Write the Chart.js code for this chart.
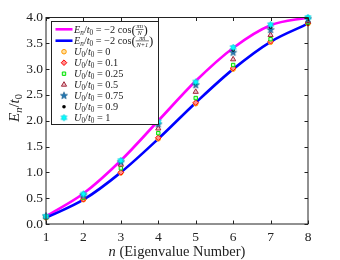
<!DOCTYPE html>
<html>
<head>
<meta charset="utf-8">
<script src="https://cdn.jsdelivr.net/npm/chart.js@4.4.1/dist/chart.umd.min.js"></script>
<style>
  html, body { margin: 0; padding: 0; background: #fff; }
  #wrap { width: 340px; height: 260px; }
</style>
</head>
<body>
<div id="wrap"><canvas id="eigChart" width="340" height="260"></canvas></div>
<script>
// data
const nValues = [1, 2, 3, 4, 5, 6, 7, 8];
const curveN = [0.15, 0.59, 1.23, 2.00, 2.77, 3.41, 3.85, 4.00];     // magenta, cos(pi n / N)
const curveN1 = [0.12, 0.47, 1.00, 1.65, 2.35, 3.00, 3.53, 3.88];    // blue, cos(pi n / (N+1))
const u00 = [0.12, 0.47, 0.99, 1.65, 2.33, 3.00, 3.52, 3.88];
const u01 = [0.13, 0.48, 1.00, 1.67, 2.35, 3.02, 3.54, 3.89];
const u025 = [0.13, 0.51, 1.08, 1.76, 2.44, 3.08, 3.58, 3.90];
const u05 = [0.14, 0.53, 1.15, 1.85, 2.56, 3.19, 3.66, 3.93];
const u075 = [0.15, 0.56, 1.20, 1.93, 2.69, 3.32, 3.76, 3.97];
const u09 = [0.15, 0.57, 1.21, 1.96, 2.72, 3.37, 3.81, 3.99];
const u10 = [0.15, 0.58, 1.23, 1.98, 2.75, 3.42, 3.86, 4.00];
const uLabels = ['0', '0.1', '0.25', '0.5', '0.75', '0.9', '1'];
const xTicks = [1, 2, 3, 4, 5, 6, 7, 8];
const yTicks = [0, 0.5, 1, 1.5, 2, 2.5, 3, 3.5, 4];

const SERIF = "'Liberation Serif', 'DejaVu Serif', serif";
const INK = '#222';

function font(size, italic) {
  return (italic ? 'italic ' : '') + size + 'px ' + SERIF;
}

function pts(ys) {
  return nValues.map((n, i) => ({ x: n, y: ys[i] }));
}

// small star markers drawn on offscreen canvases
function starCanvas(points, fill, edge, r) {
  const s = Math.ceil(r * 2 + 2);
  const c = document.createElement('canvas');
  c.width = s; c.height = s;
  const g = c.getContext('2d');
  const inner = points === 5 ? r * 0.42 : r * 0.58;
  g.beginPath();
  for (let k = 0; k < points * 2; k++) {
    const a = -Math.PI / 2 + k * Math.PI / points;
    const rr = k % 2 === 0 ? r : inner;
    const px = s / 2 + rr * Math.cos(a), py = s / 2 + rr * Math.sin(a);
    if (k === 0) g.moveTo(px, py); else g.lineTo(px, py);
  }
  g.closePath();
  g.fillStyle = fill; g.fill();
  g.lineWidth = 0.7; g.strokeStyle = edge; g.stroke();
  return c;
}

const starBlue = starCanvas(5, '#1f77b4', '#155a8a', 3.7);
const starCyan = starCanvas(6, '#00ffff', '#00c8d8', 3.4);

const markerSets = [
  { data: u00, pointStyle: 'circle', radius: 2.3, borderColor: '#ff9900', backgroundColor: '#ffe0a0', borderWidth: 1 },
  { data: u01, pointStyle: 'rectRot', radius: 2.8, borderColor: '#ff0000', backgroundColor: '#ff9090', borderWidth: 1 },
  { data: u025, pointStyle: 'rect', radius: 2.4, borderColor: '#00e000', backgroundColor: '#c8ffc8', borderWidth: 1 },
  { data: u05, pointStyle: 'triangle', radius: 3, borderColor: '#a0283a', backgroundColor: '#f0c0c8', borderWidth: 1 },
  { data: u075, pointStyle: starBlue, radius: 4, borderColor: '#1f77b4', backgroundColor: '#1f77b4', borderWidth: 0 },
  { data: u09, pointStyle: 'circle', radius: 1.8, borderColor: '#000', backgroundColor: '#000', borderWidth: 0 },
  { data: u10, pointStyle: starCyan, radius: 4, borderColor: '#00ffff', backgroundColor: '#00ffff', borderWidth: 0 }
];

// inline math-ish text: italics, subscripts, small fractions
function rich(ctx, parts, x, y, size, draw) {
  let cx = x;
  ctx.textAlign = 'left';
  ctx.textBaseline = 'alphabetic';
  parts.forEach(p => {
    if (p.frac) {
      const fs = size * 0.62;
      ctx.font = font(fs, true);
      const wn = ctx.measureText(p.frac[0]).width;
      const wd = ctx.measureText(p.frac[1]).width;
      const w = Math.max(wn, wd) + 1.5;
      if (draw) {
        ctx.fillText(p.frac[0], cx + (w - wn) / 2, y - size * 0.42);
        ctx.fillText(p.frac[1], cx + (w - wd) / 2, y + size * 0.24);
        ctx.fillRect(cx, y - size * 0.34, w, 0.6);
      }
      cx += w;
      return;
    }
    const fs = p.sub ? size * 0.7 : (p.big ? size * 1.25 : size);
    ctx.font = font(fs, p.it);
    if (draw) ctx.fillText(p.t, cx, y + (p.sub ? size * 0.22 : (p.big ? size * 0.12 : 0)));
    cx += ctx.measureText(p.t).width;
  });
  return cx - x;
}

const enPrefix = [
  { t: 'E', it: true }, { t: 'n', it: true, sub: true }, { t: '/' },
  { t: 't', it: true }, { t: '0', sub: true }
];
const legendCurveText = [
  enPrefix.concat([{ t: ' = \u22122 cos' }, { t: '(', big: true }, { frac: ['\u03c0n', 'N'] }, { t: ')', big: true }]),
  enPrefix.concat([{ t: ' = \u22122 cos' }, { t: '(', big: true }, { frac: ['\u03c0n', 'N+1'] }, { t: ')', big: true }])
];

const framePlugin = {
  id: 'frame',
  afterDatasetsDraw(chart) {
    const ctx = chart.ctx;
    const a = chart.chartArea;
    const sx = chart.scales.x, sy = chart.scales.y;
    ctx.save();
    // frame and inward ticks on all four sides
    ctx.strokeStyle = INK;
    ctx.lineWidth = 1;
    ctx.strokeRect(a.left, a.top, a.right - a.left, a.bottom - a.top);
    ctx.beginPath();
    xTicks.forEach(v => {
      const px = Math.round(sx.getPixelForValue(v)) + 0.5;
      ctx.moveTo(px, a.bottom); ctx.lineTo(px, a.bottom - 3.5);
      ctx.moveTo(px, a.top); ctx.lineTo(px, a.top + 3.5);
    });
    yTicks.forEach(v => {
      const py = Math.round(sy.getPixelForValue(v)) + 0.5;
      ctx.moveTo(a.left, py); ctx.lineTo(a.left + 3.5, py);
      ctx.moveTo(a.right, py); ctx.lineTo(a.right - 3.5, py);
    });
    ctx.stroke();

    // legend box
    const lx = 51.5, ly = 21.5, lw = 107, lh = 103;
    ctx.fillStyle = '#fff';
    ctx.fillRect(lx, ly, lw, lh);
    ctx.strokeStyle = INK;
    ctx.strokeRect(lx, ly, lw, lh);
    const fs = 10.3;
    const curveColors = ['#ff00ff', '#0000ff'];
    [29.3, 40.7].forEach((yy, i) => {
      ctx.strokeStyle = curveColors[i];
      ctx.lineWidth = 2.6;
      ctx.beginPath();
      ctx.moveTo(55.5, yy); ctx.lineTo(72.5, yy);
      ctx.stroke();
      ctx.fillStyle = INK;
      rich(ctx, legendCurveText[i], 74, yy + 3.4, fs, true);
    });
    markerSets.forEach((m, i) => {
      const yy = 51.7 + i * 11;
      ctx.fillStyle = m.backgroundColor;
      ctx.strokeStyle = m.borderColor;
      ctx.lineWidth = m.borderWidth;
      Chart.helpers.drawPoint(ctx, {
        pointStyle: m.pointStyle, radius: m.radius, rotation: 0, borderWidth: m.borderWidth
      }, 64, yy);
      ctx.fillStyle = INK;
      rich(ctx, [{ t: 'U', it: true }, { t: '0', sub: true }, { t: '/' }, { t: 't', it: true },
        { t: '0', sub: true }, { t: ' = ' + uLabels[i] }], 74, yy + 3.4, fs, true);
    });

    // axis titles
    ctx.fillStyle = INK;
    const xt = [{ t: 'n', it: true }, { t: ' (Eigenvalue Number)' }];
    const xw = rich(ctx, xt, 0, 0, 14.5, false);
    rich(ctx, xt, (a.left + a.right) / 2 - xw / 2, 256, 14.5, true);

    const yt = [{ t: 'E', it: true }, { t: 'n', it: true, sub: true }, { t: '/' },
      { t: 't', it: true }, { t: '0', sub: true }];
    const yw = rich(ctx, yt, 0, 0, 15, false);
    ctx.translate(18.5, 108);
    ctx.rotate(-Math.PI / 2);
    rich(ctx, yt, -yw / 2, 0, 15, true);
    ctx.restore();
  }
};

const datasets = [
  {
    type: 'line', label: 'cos(pi n/N)', data: pts(curveN), borderColor: '#ff00ff',
    borderWidth: 2.6, pointRadius: 0, cubicInterpolationMode: 'monotone', fill: false, order: 20, clip: false
  },
  {
    type: 'line', label: 'cos(pi n/(N+1))', data: pts(curveN1), borderColor: '#0000ff',
    borderWidth: 2.6, pointRadius: 0, cubicInterpolationMode: 'monotone', fill: false, order: 19, clip: false
  }
].concat(markerSets.map((m, i) => ({
  type: 'scatter', label: 'U0/t0 = ' + uLabels[i], data: pts(m.data), showLine: false,
  pointStyle: m.pointStyle, pointRadius: m.radius, pointBorderColor: m.borderColor,
  pointBackgroundColor: m.backgroundColor, pointBorderWidth: m.borderWidth,
  order: 10 - i, clip: false
})));

new Chart(document.getElementById('eigChart'), {
  type: 'scatter',
  data: { datasets: datasets },
  options: {
    responsive: false,
    animation: false,
    devicePixelRatio: 1,
    layout: { padding: { top: 17.5, right: 32, bottom: 0, left: 0 } },
    plugins: { legend: { display: false }, tooltip: { enabled: false } },
    scales: {
      x: {
        type: 'linear', min: 1, max: 8,
        grid: { display: false, drawTicks: false }, border: { display: false },
        afterFit: s => { s.height = 36; },
        afterBuildTicks: s => { s.ticks = xTicks.map(v => ({ value: v })); },
        ticks: { color: INK, padding: 5, font: { family: SERIF, size: 13.5 }, callback: v => String(v) }
      },
      y: {
        type: 'linear', min: 0, max: 4,
        grid: { display: false, drawTicks: false }, border: { display: false },
        afterFit: s => { s.width = 46; },
        afterBuildTicks: s => { s.ticks = yTicks.map(v => ({ value: v })); },
        ticks: { color: INK, padding: 3, font: { family: SERIF, size: 13.5 }, callback: v => v.toFixed(1) }
      }
    }
  },
  plugins: [framePlugin]
});
</script>
</body>
</html>
